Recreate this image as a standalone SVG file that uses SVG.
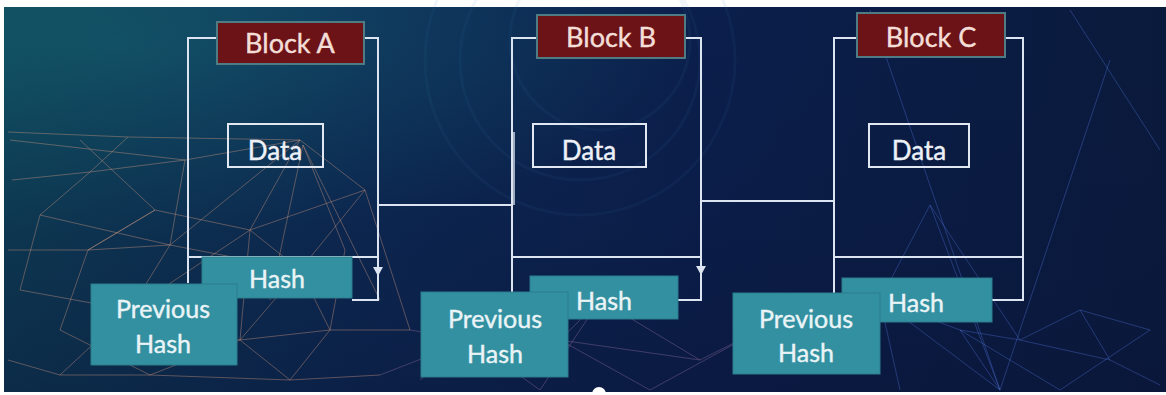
<svg xmlns="http://www.w3.org/2000/svg" width="1166" height="395" viewBox="0 0 1166 395">
<defs>
<linearGradient id="bg" x1="0" y1="0" x2="1" y2="0">
<stop offset="0" stop-color="#0e4358"/>
<stop offset="0.3" stop-color="#0d2c56"/>
<stop offset="0.6" stop-color="#0b1f4c"/>
<stop offset="1" stop-color="#0a1a3c"/>
</linearGradient>
<radialGradient id="glow" cx="0.1" cy="0.1" r="0.5">
<stop offset="0" stop-color="#18707a" stop-opacity="0.45"/>
<stop offset="1" stop-color="#18707a" stop-opacity="0"/>
</radialGradient>
<linearGradient id="vshade" x1="0" y1="0" x2="0" y2="1">
<stop offset="0" stop-color="#0a1a40" stop-opacity="0"/>
<stop offset="1" stop-color="#0a1438" stop-opacity="0.5"/>
</linearGradient>
<style>
.title{fill:#6b1317;stroke:#4f7c84;stroke-width:2}
.ttext{font-family:Lato,"Liberation Sans",sans-serif;font-size:27px;fill:#f4dfd8;text-anchor:middle;stroke:#f4dfd8;stroke-width:0.4}
.data{fill:none;stroke:#e2e8f2;stroke-width:2}
.dtext{font-family:Lato,"Liberation Sans",sans-serif;font-size:26px;fill:#eef2f8;text-anchor:middle;stroke:#eef2f8;stroke-width:0.4}
.hash{fill:#3290a1;stroke:#2a7d8c;stroke-width:1}
.htext{font-family:Lato,"Liberation Sans",sans-serif;font-size:25px;fill:#eaf4f6;text-anchor:middle;stroke:#eaf4f6;stroke-width:0.4}
.ln{fill:none;stroke:#dbe4f0;stroke-width:2}
.arr{fill:#dbe4f0}
.netw{fill:none;stroke:#d89a80;stroke-opacity:0.4;stroke-width:1}
.netp{fill:none;stroke:#a77aa8;stroke-opacity:0.35;stroke-width:1}
.netb{fill:none;stroke:#4a6fd0;stroke-opacity:0.4;stroke-width:1}
.arc{fill:none;stroke:#3f7fb0;stroke-opacity:0.08;stroke-width:3}
</style>
</defs>
<rect x="0" y="0" width="1166" height="395" fill="#ffffff"/>
<rect x="4" y="7" width="1162" height="385" fill="url(#bg)"/>
<rect x="4" y="7" width="1162" height="385" fill="url(#glow)"/>
<rect x="4" y="7" width="1162" height="385" fill="url(#vshade)"/>
<g id="background">
<circle cx="580" cy="60" r="120" class="arc"/>
<circle cx="580" cy="60" r="155" class="arc"/>
<circle cx="600" cy="40" r="90" class="arc"/>
<path class="netw" d="M8 132 L128 137 L300 140 L365 190 M10 140 L185 160 L300 140 M80 140 L155 210 L250 230 L300 270 M128 137 L90 172 L40 215 L20 290 M155 210 L88 250 L60 330 M185 160 L170 245 L130 310 L60 375 M300 140 L170 245 L88 250 M365 190 L250 230 L130 310 M40 215 L170 245 L300 270 M300 270 L240 340 L150 375 M300 270 L330 330 L290 380 M240 340 L330 330 L410 330 M130 310 L240 340 L290 380 M20 290 L130 310 M60 330 L150 375 M365 190 L410 330 M300 140 L250 230 L240 340 M8 250 L88 250 L155 210 M8 360 L60 375 L150 375 L290 380 L380 375"/>
<path class="netw" d="M303 145 L345 250 L330 330 M303 145 L270 300 M303 145 L380 300 M365 190 L300 270 M12 180 L90 172 L185 160"/>
<path class="netp" d="M380 375 L470 340 L560 340 L600 300 L700 360 M410 330 L470 340 L540 390 M560 340 L650 390 M600 300 L540 390 M700 360 L760 330 L820 370 M470 340 L420 380 M650 390 L760 330 M560 340 L700 360"/>
<path class="netb" d="M930 205 L880 300 L960 330 L1020 340 L1080 310 L1150 330 M930 205 L1020 340 M930 205 L1000 390 M880 300 L900 390 M960 330 L1060 390 M1080 310 L1110 360 L1160 385 M1020 340 L1110 360 M870 10 L1000 390 M1070 10 L1160 150 M1110 60 L1000 390 M960 330 L1000 390 M1150 330 L1060 390 M880 300 L1000 390"/>
</g>
<g id="connectors">
<path class="ln" d="M217 38 H188 V283"/>
<path class="ln" d="M364 38 H378 V300 H352"/>
<path class="ln" d="M188 257 H378"/>
<polygon class="arr" points="373,267 383,267 378,276"/>
<path class="ln" d="M378 205 H512"/>
<path class="ln" d="M537 38 H512 V292"/>
<path class="ln" d="M514 132 V205" stroke-opacity="0.7"/>
<path class="ln" d="M685 38 H701 V300 H678"/>
<path class="ln" d="M512 257 H701"/>
<polygon class="arr" points="696,266 706,266 701,275"/>
<path class="ln" d="M701 201 H834"/>
<path class="ln" d="M857 38 H834 V293"/>
<path class="ln" d="M1005 38 H1023 V300 H992"/>
<path class="ln" d="M834 257 H1023"/>
</g>
<g id="blockA">
<rect class="title" x="217" y="22" width="147" height="42"/>
<text class="ttext" x="290" y="53">Block A</text>
<rect class="data" x="228" y="124" width="95" height="43"/>
<text class="dtext" x="275" y="160">Data</text>
<rect class="hash" x="202" y="257" width="150" height="41"/>
<text class="htext" x="277" y="288">Hash</text>
<rect class="hash" x="91" y="284" width="146" height="81"/>
<text class="htext" x="163" y="318">Previous</text>
<text class="htext" x="163" y="353">Hash</text>
</g>
<g id="blockB">
<rect class="title" x="537" y="15" width="148" height="43"/>
<text class="ttext" x="611" y="47">Block B</text>
<rect class="data" x="533" y="124" width="113" height="43"/>
<text class="dtext" x="589" y="160">Data</text>
<rect class="hash" x="530" y="276" width="148" height="43"/>
<text class="htext" x="604" y="310">Hash</text>
<rect class="hash" x="421" y="292" width="147" height="85"/>
<text class="htext" x="495" y="328">Previous</text>
<text class="htext" x="495" y="363">Hash</text>
</g>
<g id="blockC">
<rect class="title" x="857" y="13" width="148" height="44"/>
<text class="ttext" x="931" y="47">Block C</text>
<rect class="data" x="869" y="124" width="100" height="43"/>
<text class="dtext" x="919" y="160">Data</text>
<rect class="hash" x="842" y="278" width="150" height="44"/>
<text class="htext" x="916" y="312">Hash</text>
<rect class="hash" x="733" y="293" width="147" height="81"/>
<text class="htext" x="806" y="328">Previous</text>
<text class="htext" x="806" y="362">Hash</text>
</g>
<circle cx="599" cy="394" r="7" fill="#ffffff"/>
</svg>
